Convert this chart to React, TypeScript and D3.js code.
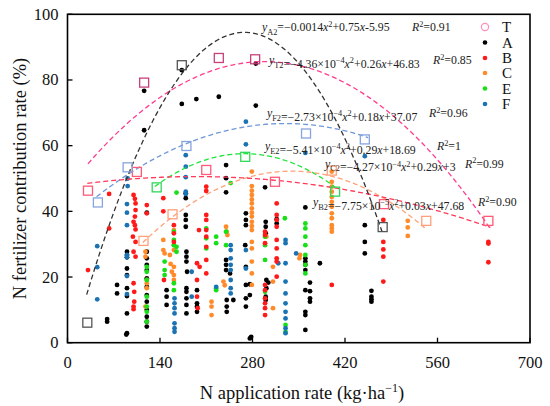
import React from "react";
import * as d3 from "d3";

type P = [number, number];

// ---------- data ----------
const xTicks = [0, 140, 280, 420, 560, 700];
const yTicks = [0, 20, 40, 60, 80, 100];

const seriesNames = ["T", "A", "B", "C", "E", "F"];

const dotsA: P[] = [
  [116, 76.7], [116, 64.7], [173, 83], [173, 72.7], [195, 74.2], [229, 74.9], [285, 85], [285, 72.2],
  [60, 6.4], [60, 7.2], [75, 17.6], [75, 15],
  [90, 27.7], [90, 26.7], [90, 26], [90, 22.6], [90, 20.6], [90, 16.6], [90, 14.2], [90, 8.9], [90, 2.9], [89, 2.5],
  [120, 39.6], [120, 27.7], [120, 25.7], [120, 23.7], [120, 22.1], [120, 19.6], [120, 17], [120, 14.5], [120, 12.5], [120, 10], [120, 7.9], [120, 6.4], [120, 4.9],
  [150, 16], [150, 14], [150, 11.5],
  [179, 45.5], [179, 44], [179, 38.9], [179, 37.4], [179, 35.3], [180, 27.7], [180, 26.2], [180, 24.7], [181, 21.6], [180, 16.6], [180, 15.5], [180, 13.5], [180, 11.5], [180, 8.9],
  [196, 16], [196, 12], [196, 11], [196, 9.4],
  [240, 54.1], [240, 50.1], [240, 45.8], [240, 25.2], [240, 23.7], [240, 22.1], [241, 13], [241, 11], [241, 9.4], [246, 21.1], [251, 13],
  [270, 39.4], [270, 37.4], [270, 35.8], [269, 29.7], [270, 23.1], [270, 17.6], [270, 13.5], [270, 11], [276, 1.3], [278, 1.8], [276, 17.8], [276, 14.5],
  [299, 47.3], [300, 36.8], [300, 35.3], [300, 33.3], [301, 19.1], [304, 18.3], [301, 16.6], [300, 14], [300, 13],
  [316.6, 37.6], [316.6, 36.3],
  [360, 41.2], [360, 25.7], [360, 24.7], [360, 23.7], [360, 22.1], [360, 16], [360, 9.4], [360, 8.4], [360, 3.9],
  [367, 18.3], [367, 15.7], [367, 13.5], [367, 12.5],
  [382, 24.2], [450, 35.8], [450, 30.7], [450, 27.2],
  [460, 15.8], [460, 14], [460, 13.2], [460, 12.5],
];

const dotsB: P[] = [
  [31, 22.1], [63, 34.8], [63, 45.3],
  [100, 45], [102, 43.8], [103, 42.4], [103, 40.4], [102, 38.4], [100, 36.8], [102, 35.8], [103, 34.5], [99, 32.3], [103, 30.7], [100, 27.7], [103, 26.2], [100, 18.1], [101, 15.5], [101, 12.5], [100, 11], [100, 10.2],
  [120, 41.9], [120, 39.4], [145, 44], [145, 40], [146, 19.1],
  [161, 35.8], [161, 33.3], [161, 30.7],
  [196, 24.2], [196, 19.1], [196, 14], [197, 10.5], [199, 34.3], [200, 23.1],
  [210, 47.5], [210, 46.2], [210, 38.9], [210, 37.4], [210, 34.3], [210, 32.3], [210, 29.2], [210, 25.2], [210, 21.1],
  [316.6, 42.4], [316.6, 38.9], [316.6, 37.4], [316.6, 35.3], [316.6, 31.3], [316.6, 28.7], [316.6, 25.7], [316.6, 24.7], [316.6, 20.1],
  [299, 33.8], [299, 32.8], [299, 30.3], [299, 17.6], [299, 16], [299, 13.5], [299, 12], [299, 10.5], [299, 8.4],
  [400, 17.6],
  [478, 37.4], [478, 30.7], [478, 28.4], [478, 26.2], [478, 18.6],
  [637, 30.7], [637, 30.2], [637, 24.5],
];

const dotsC: P[] = [
  [118, 27.7], [118, 26.2], [120, 19.1], [120, 18.1], [120, 16.6], [118, 11],
  [145, 31.3], [145, 28.2], [147, 27.2], [155, 26.7], [156, 24], [158, 21.6],
  [161, 34.3], [161, 29.7], [161, 28.2], [161, 23.1], [161, 20.6], [161, 19.1],
  [218, 12.5], [218, 11], [218, 8.4],
  [240, 35.3], [241, 33.8], [242, 32.8], [236, 18.6], [238, 17.5],
  [279, 52.1], [279, 47.7], [279, 46.3], [279, 45], [279, 43.6], [279, 42.4], [279, 40.9], [279, 39.6], [279, 38.4], [279, 36.8], [279, 35.5], [279, 34.3],
  [279, 30.7], [279, 28.7], [279, 24.7], [279, 21.1], [279, 17.6],
  [301, 32.3], [311, 23.1], [311, 18.6], [311, 10.5], [351, 25.7], [352, 26.7],
  [400, 52.1], [400, 49], [400, 47.5], [400, 46], [400, 44.4], [400, 42.9], [400, 41.4], [400, 39.4], [400, 37.9], [400, 35.8], [400, 34.8], [400, 33.8],
  [515, 37.1], [515, 35.1], [515, 32.5],
];

const dotsE: P[] = [
  [120, 23.1], [120, 21.6], [120, 19.1], [120, 14], [120, 11], [120, 9.4], [120, 6.4],
  [147, 24.7], [147, 22.1], [147, 20.6],
  [161, 33.8], [161, 31.3], [161, 29.7], [165, 29.2], [165, 27.7], [161, 18.1], [161, 16], [165, 45.7],
  [210, 34.8], [210, 31.8], [210, 28.7],
  [225, 32.3], [225, 30.3], [225, 16.6], [225, 16],
  [240, 33.8], [240, 29.7], [247, 48.6],
  [299, 32.3], [299, 29.7], [299, 25.2], [299, 15.5], [329, 37.9],
  [330, 5.4], [330, 3.3],
  [360, 36.3], [360, 34.8], [360, 32.3], [360, 29.7], [360, 26.7], [360, 23.7], [360, 21.1],
];

const dotsF: P[] = [
  [45, 29.4], [45, 23], [45, 13.2],
  [91, 50], [91, 47.7], [90, 42.2], [90, 39.6], [90, 35.8], [90, 26.7], [90, 26], [90, 20.3], [90, 14.8],
  [162, 13.5], [162, 12], [162, 10.5], [162, 8.9], [162, 5.9], [162, 4.4], [162, 3.3],
  [179, 57.1], [179, 53.6], [179, 50.4], [179, 46], [179, 45.3],
  [188, 21.6], [188, 14], [225, 17],
  [247, 29.7], [247, 28.2], [247, 25.7], [247, 23.7], [247, 22.1], [247, 19.1], [247, 16.6], [247, 15],
  [270, 67.3], [270, 60.4], [270, 28.2], [270, 22.6], [319, 24.2],
  [330, 31.3], [330, 30.3], [330, 24.2], [330, 18.6], [330, 15], [330, 12], [330, 9.4], [330, 7.4], [330, 4.4], [330, 2.9],
  [346, 27.2], [360, 57.8], [450, 56.8],
];

// open squares (mean values)
const sqT: P[] = [[116, 79.2], [229, 86.7], [284, 86.3]];
const sqA: P[] = [[30, 6.1], [173, 84.5], [477, 35.2]];
const sqB: P[] = [[31, 46.3], [105, 52], [210, 52.6], [314, 49], [479, 42.2], [637, 37.1]];
const sqC: P[] = [[115, 31], [159, 39.1], [400, 52.4], [543, 37.1]];
const sqE: P[] = [[135, 47.3], [269, 56.6], [405, 46]];
const sqF: P[] = [[46, 42.7], [91, 53.4], [180, 59.9], [361, 63.7], [450, 61.9]];

// fitted quadratic coefficients [a, b, c] and fitted x-range
const fitA = [-0.0014, 0.75, -5.95];
const fitT = [-4.36e-4, 0.26, 46.83];
const fitF = [-2.73e-4, 0.18, 37.07];
const fitE = [-5.41e-4, 0.29, 18.69];
const fitC = [-4.27e-4, 0.29, 3];
const fitB = [-7.75e-5, 0.03, 47.68];
const rangeA = [29, 476];
const rangeT = [31, 640];
const rangeF = [44, 455];
const rangeE = [132, 405];
const rangeC = [114, 543];
const rangeB = [30, 640];

// ---------- layout ----------
const W = 550, H = 406;
const L = 67.5, R = 530, T0 = 14.3, B0 = 342.7;
const x = d3.scaleLinear().domain([0, 700]).range([L, R]);
const y = d3.scaleLinear().domain([0, 100]).range([B0, T0]);

const COL = {
  A: "#000000", B: "#ff1a1a", C: "#ff8a2a", E: "#17e017", F: "#1b73b3", T: "#ff8fb8",
};
const LINE = {
  A: "#333333", T: "#ff3d8f", F: "#6f98d8", E: "#1ee63a", C: "#ffa27a", B: "#ff3a5a",
};
const SQ = {
  A: "#555555", T: "#c8407a", B: "#ff5a78", C: "#ffa07a", E: "#2fd85a", F: "#86a4e0",
};

const FONT = "Liberation Serif, Times New Roman, Times, DejaVu Serif, serif";

type Seg = { t: string; i?: boolean; sub?: boolean; sup?: boolean };

function RichText({ x0, y0, segs, size }: { x0: number; y0: number; segs: Seg[]; size: number }) {
  let cur = 0;
  return (
    <text x={x0} y={y0} style={{ fontFamily: FONT, fontSize: size }} fill="#222">
      {segs.map((s, k) => {
        const target = s.sub ? size * 0.3 : s.sup ? -size * 0.38 : 0;
        const dy = target - cur;
        cur = target;
        return (
          <tspan key={k} dy={dy} style={{ fontStyle: s.i ? "italic" : "normal", fontSize: s.sub || s.sup ? size * 0.7 : size }}>
            {s.t}
          </tspan>
        );
      })}
    </text>
  );
}

const eq = (name: string, a: string, rest: Seg[]): Seg[] => [
  { t: "y", i: true }, { t: name + "2", sub: true }, { t: a }, ...rest,
];
const sci = (m: string, e: string, b: string, c: string): Seg[] => [
  { t: "=\u2212" + m + "\u00d710" }, { t: "\u2212" + e, sup: true }, { t: "x", i: true }, { t: "2", sup: true },
  { t: "+" + b }, { t: "x", i: true }, { t: c },
];

const equations: { segs: Seg[]; r2: string; ex: number; ey: number; rx: number }[] = [
  { segs: eq("A", "=\u22120.0014", [{ t: "x", i: true }, { t: "2", sup: true }, { t: "+0.75" }, { t: "x", i: true }, { t: "-5.95" }]), r2: "0.91", ex: 262, ey: 31, rx: 412 },
  { segs: eq("T", "", sci("4.36", "4", "0.26", "+46.83")), r2: "0.85", ex: 269, ey: 64, rx: 433 },
  { segs: eq("F", "", sci("2.73", "4", "0.18", "+37.07")), r2: "0.96", ex: 267, ey: 117, rx: 429 },
  { segs: eq("E", "", sci("5.41", "4", "0.29", "+18.69")), r2: "1", ex: 265, ey: 150, rx: 437 },
  { segs: eq("C", "", sci("4.27", "4", "0.29", "+3")), r2: "0.99", ex: 325, ey: 167.5, rx: 465 },
  { segs: eq("B", "", sci("7.75", "5", "0.03", "+47.68")), r2: "0.90", ex: 313, ey: 206, rx: 478 },
];

function curve(f: number[], r: number[]) {
  const pts: P[] = d3.range(r[0], r[1] + 0.01, (r[1] - r[0]) / 120).map((v) => [v, f[0] * v * v + f[1] * v + f[2]]);
  return d3.line<P>().x((d) => x(d[0])).y((d) => y(d[1]))(pts) || "";
}

export default function App() {
  const dotSets: [P[], string][] = [
    [dotsA, COL.A], [dotsC, COL.C], [dotsE, COL.E], [dotsF, COL.F], [dotsB, COL.B],
  ];
  const fits: [number[], number[], string][] = [
    [fitT, rangeT, LINE.T], [fitF, rangeF, LINE.F], [fitE, rangeE, LINE.E],
    [fitC, rangeC, LINE.C], [fitB, rangeB, LINE.B], [fitA, rangeA, LINE.A],
  ];
  const squares: [P[], string][] = [
    [sqT, SQ.T], [sqA, SQ.A], [sqB, SQ.B], [sqC, SQ.C], [sqE, SQ.E], [sqF, SQ.F],
  ];
  const sqs = 9;
  const legendY = [32, 47.5, 63, 78, 93.5, 109];
  const tf = { fontFamily: FONT };
  return (
    <svg width={W} height={H} style={{ position: "absolute", left: 0, top: 0, background: "#fff" }}>
      {dotSets.map(([pts, c], si) =>
        pts.map((p, k) => <circle key={si + "-" + k} cx={x(p[0])} cy={y(p[1])} r={2.4} fill={c} />)
      )}
      {fits.map(([f, r, c], k) => (
        <path key={k} d={curve(f, r)} fill="none" stroke={c} strokeWidth={1.3} strokeDasharray="5,3" />
      ))}
      {squares.map(([pts, c], si) =>
        pts.map((p, k) => (
          <rect key={si + "s" + k} x={x(p[0]) - sqs / 2} y={y(p[1]) - sqs / 2} width={sqs} height={sqs} fill="none" stroke={c} strokeWidth={1.3} />
        ))
      )}
      <rect x={L} y={T0} width={R - L} height={B0 - T0} fill="none" stroke="#000" strokeWidth={1.6} />
      {xTicks.map((t) => (
        <g key={"x" + t}>
          <line x1={x(t)} x2={x(t)} y1={B0} y2={B0 - 5} stroke="#000" strokeWidth={1.3} />
          <text x={x(t)} y={368} textAnchor="middle" style={{ ...tf, fontSize: 16.5 }} fill="#111">{t}</text>
        </g>
      ))}
      {yTicks.map((t) => (
        <g key={"y" + t}>
          <line x1={L} x2={L + 5} y1={y(t)} y2={y(t)} stroke="#000" strokeWidth={1.3} />
          <text x={58.5} y={y(t) + 5.5} textAnchor="end" style={{ ...tf, fontSize: 16.5 }} fill="#111">{t}</text>
        </g>
      ))}
      <text x={302} y={398.5} textAnchor="middle" style={{ ...tf, fontSize: 18.5 }} fill="#111">
        N application rate (kg·ha<tspan dy={-7} style={{ fontSize: 12 }}>{"\u22121"}</tspan><tspan dy={7}>)</tspan>
      </text>
      <text transform={`translate(26,${(T0 + B0) / 2}) rotate(-90)`} textAnchor="middle" style={{ ...tf, fontSize: 18.5 }} fill="#111">
        N fertilizer contribution rate (%)
      </text>
      {equations.map((e, k) => (
        <g key={"e" + k}>
          <RichText x0={e.ex} y0={e.ey} segs={e.segs} size={11.8} />
          <RichText x0={e.rx} y0={e.ey} segs={[{ t: "R", i: true }, { t: "2", sup: true }, { t: "=" + e.r2 }]} size={11.8} />
        </g>
      ))}
      {seriesNames.map((n, k) => (
        <g key={"l" + n}>
          {n === "T" ? (
            <circle cx={485} cy={legendY[k] - 5} r={3.6} fill="none" stroke={COL.T} strokeWidth={1.2} />
          ) : (
            <circle cx={485} cy={legendY[k] - 5} r={2.3} fill={(COL as any)[n]} />
          )}
          <text x={502} y={legendY[k]} style={{ ...tf, fontSize: 15 }} fill="#111">{n}</text>
        </g>
      ))}
    </svg>
  );
}
